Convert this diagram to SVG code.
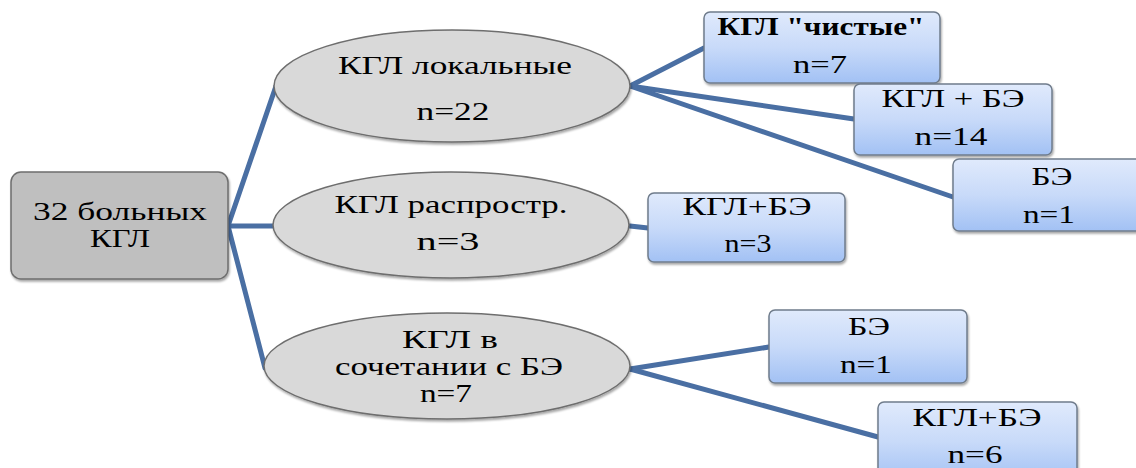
<svg xmlns="http://www.w3.org/2000/svg" width="1136" height="468" viewBox="0 0 1136 468">
<defs>
<linearGradient id="blue" x1="0" y1="0" x2="0" y2="1">
<stop offset="0" stop-color="#e0eafc"/>
<stop offset="0.5" stop-color="#c8daf9"/>
<stop offset="1" stop-color="#a2c1f4"/>
</linearGradient>
<filter id="sh" x="-10%" y="-10%" width="120%" height="130%">
<feDropShadow dx="1" dy="2" stdDeviation="1" flood-color="#000" flood-opacity="0.35"/>
</filter>
</defs>
<style>
text{font-size:25px;fill:#000;text-anchor:middle}
.b{font-weight:bold}
.r{font-size:26px}
.ell{fill:#d9d9d9;stroke:#6e6e6e;stroke-width:1.5;filter:url(#sh)}
.box{fill:url(#blue);stroke:#6f7c8c;stroke-width:1.5;filter:url(#sh)}
.root{fill:#bfbfbf;stroke:#6e6e6e;stroke-width:1.5;filter:url(#sh)}
.c{stroke:#4a6fa3;stroke-width:5;fill:none;stroke-linecap:round}
</style>
<rect width="1136" height="468" fill="#ffffff"/>
<g id="connectors">
<line class="c" x1="228" y1="226" x2="276" y2="86"/>
<line class="c" x1="228" y1="226" x2="273" y2="226"/>
<line class="c" x1="228" y1="226" x2="265" y2="368"/>
<line class="c" x1="630" y1="86" x2="704" y2="48"/>
<line class="c" x1="630" y1="86" x2="854" y2="119"/>
<line class="c" x1="630" y1="86" x2="953" y2="197"/>
<line class="c" x1="630" y1="226" x2="648" y2="228"/>
<line class="c" x1="630" y1="369" x2="769" y2="347"/>
<line class="c" x1="630" y1="369" x2="878" y2="437"/>
</g>
<g font-family="Liberation Serif, Times New Roman, Tinos, Noto Serif, DejaVu Serif, FreeSerif, serif">
<g id="root">
<rect class="root" x="11" y="172" width="217" height="107" rx="10"/>
<text class="r" x="120" y="220" textLength="174" lengthAdjust="spacingAndGlyphs">32 больных</text>
<text class="r" x="120" y="247" textLength="60" lengthAdjust="spacingAndGlyphs">КГЛ</text>
</g>
<g id="e1">
<ellipse class="ell" cx="452" cy="86" rx="178" ry="56"/>
<text x="455" y="74" textLength="234" lengthAdjust="spacingAndGlyphs">КГЛ локальные</text>
<text x="453" y="120" textLength="73" lengthAdjust="spacingAndGlyphs">n=22</text>
</g>
<g id="e2">
<ellipse class="ell" cx="451" cy="225" rx="178" ry="53"/>
<text x="451" y="213" textLength="233" lengthAdjust="spacingAndGlyphs">КГЛ распростр.</text>
<text x="448" y="250" textLength="63" lengthAdjust="spacingAndGlyphs">n=3</text>
</g>
<g id="e3">
<ellipse class="ell" cx="447" cy="366" rx="183" ry="53"/>
<text x="450" y="348" textLength="96" lengthAdjust="spacingAndGlyphs">КГЛ  в</text>
<text x="449" y="375" textLength="228" lengthAdjust="spacingAndGlyphs">сочетании с БЭ</text>
<text x="446" y="402" textLength="52" lengthAdjust="spacingAndGlyphs">n=7</text>
</g>
<g id="b1">
<rect class="box" x="704" y="12" width="236" height="71" rx="6"/>
<text class="b" x="821" y="35" textLength="207" lengthAdjust="spacingAndGlyphs">КГЛ "чистые"</text>
<text x="820" y="73" textLength="54" lengthAdjust="spacingAndGlyphs">n=7</text>
</g>
<g id="b2">
<rect class="box" x="854" y="84" width="198" height="71" rx="6"/>
<text x="953" y="107" textLength="143" lengthAdjust="spacingAndGlyphs">КГЛ + БЭ</text>
<text x="951" y="145" textLength="73" lengthAdjust="spacingAndGlyphs">n=14</text>
</g>
<g id="b3">
<rect class="box" x="953" y="159" width="200" height="72" rx="6"/>
<text x="1052" y="185" textLength="41" lengthAdjust="spacingAndGlyphs">БЭ</text>
<text x="1049" y="223" textLength="52" lengthAdjust="spacingAndGlyphs">n=1</text>
</g>
<g id="b4">
<rect class="box" x="648" y="193" width="197" height="69" rx="6"/>
<text x="747" y="215" textLength="129" lengthAdjust="spacingAndGlyphs">КГЛ+БЭ</text>
<text x="748" y="252" textLength="47" lengthAdjust="spacingAndGlyphs">n=3</text>
</g>
<g id="b5">
<rect class="box" x="769" y="310" width="198" height="73" rx="6"/>
<text x="869" y="335" textLength="42" lengthAdjust="spacingAndGlyphs">БЭ</text>
<text x="866" y="373" textLength="52" lengthAdjust="spacingAndGlyphs">n=1</text>
</g>
<g id="b6">
<rect class="box" x="878" y="402" width="199" height="80" rx="6"/>
<text x="977" y="426" textLength="129" lengthAdjust="spacingAndGlyphs">КГЛ+БЭ</text>
<text x="975" y="463" textLength="55" lengthAdjust="spacingAndGlyphs">n=6</text>
</g>
</g>
</svg>
